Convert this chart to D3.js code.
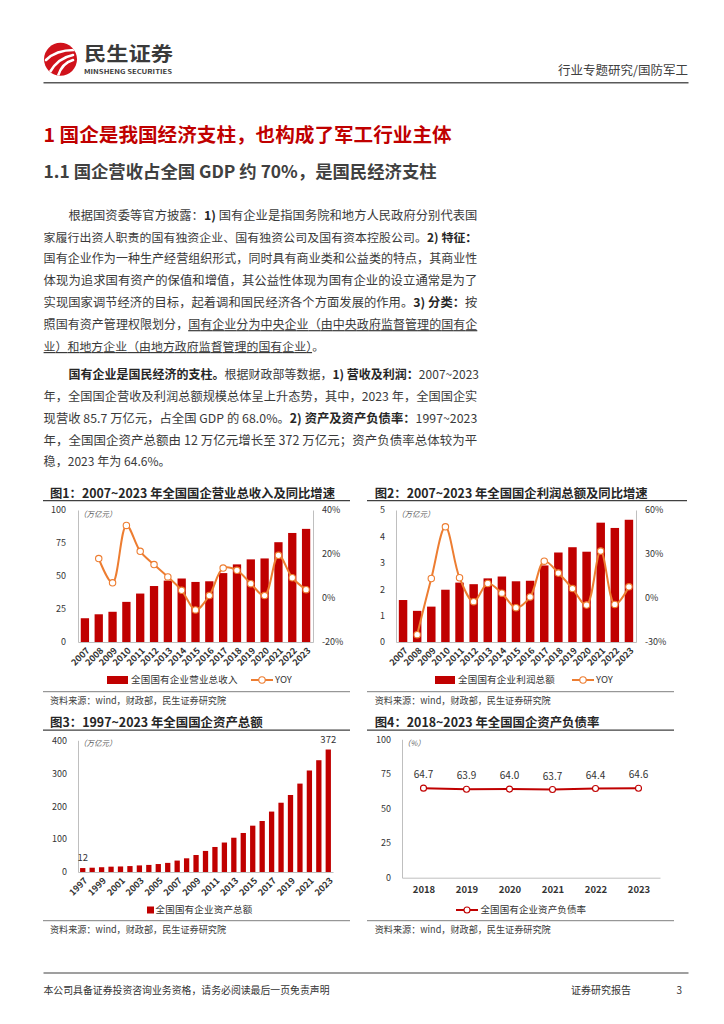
<!DOCTYPE html>
<html>
<head>
<meta charset="utf-8">
<script src="https://cdn.jsdelivr.net/npm/d3@7"></script>
<style>
body { margin: 0; background: #fff; }
svg { display: block; }
text { font-family: "Noto Sans CJK SC", "Noto Sans", sans-serif; white-space: pre; }
</style>
</head>
<body>
<svg id="page" width="724" height="1024"></svg>
<script>
// 数据 ---------------------------------------------------
var years1 = ['2007','2008','2009','2010','2011','2012','2013','2014','2015','2016','2017','2018','2019','2020','2021','2022','2023'];
var revenue = [18.0, 21.0, 22.9, 30.4, 36.7, 42.4, 46.5, 48.1, 45.5, 46.0, 52.2, 58.8, 62.6, 63.3, 75.6, 82.6, 85.7];
var revenueYoy = [null, 17.9, 6.9, 33.0, 21.2, 15.2, 9.6, 3.5, -5.4, 1.1, 13.6, 12.6, 6.5, 1.1, 19.4, 9.2, 3.8];
var profit = [1.59, 1.18, 1.34, 1.98, 2.25, 2.19, 2.41, 2.48, 2.30, 2.32, 2.90, 3.39, 3.59, 3.42, 4.52, 4.32, 4.63];
var profitYoy = [null, -25.0, 13.3, 48.5, 13.8, -2.5, 9.9, 3.3, -6.6, 0.7, 25.1, 17.0, 6.4, -4.8, 32.0, -4.4, 7.6];
var years3 = ['1997','1998','1999','2000','2001','2002','2003','2004','2005','2006','2007','2008','2009','2010','2011','2012','2013','2014','2015','2016','2017','2018','2019','2020','2021','2022','2023'];
var assets = [12, 13, 14.5, 16.2, 16.8, 18, 20, 21.5, 24.2, 27.7, 34.7, 41.6, 51.6, 64, 76, 89.5, 104.1, 118.5, 140.7, 154.9, 183.5, 210.4, 233.9, 268.5, 308.3, 339.5, 372];
var years4 = ['2018','2019','2020','2021','2022','2023'];
var debtRatio = [64.7, 63.9, 64.0, 63.7, 64.4, 64.6];

var ticks1 = [0, 25, 50, 75, 100];
var ticks1r = [-20, 0, 20, 40];
var ticks2 = [0, 1, 2, 3, 4, 5];
var ticks2r = [-30, 0, 30, 60];
var ticks3 = [0, 100, 200, 300, 400];
var ticks4 = [0, 25, 50, 75, 100];

var RED = '#c00000', ORANGE = '#ed7d31', AX = '#bfbfbf', TXT = '#333';
var svg = d3.select('#page');

// 页眉 ---------------------------------------------------
var logo = svg.append('g');
logo.append('clipPath').attr('id', 'lc').append('circle').attr('cx', 60.5).attr('cy', 59.3).attr('r', 16.5);
logo.append('circle').attr('cx', 60.5).attr('cy', 59.3).attr('r', 16.5).attr('fill', '#d0121b');
var lg = logo.append('g').attr('clip-path', 'url(#lc)').attr('fill', 'none').attr('stroke', '#fff').attr('stroke-linecap', 'round');
lg.append('path').attr('d', 'M46,60 Q56,50 74,50').attr('stroke-width', 2.6);
lg.append('path').attr('d', 'M50,72 Q58,58 73,55').attr('stroke-width', 2.6);
lg.append('path').attr('d', 'M58,76 Q62,63 73,60').attr('stroke-width', 2.6);
svg.append('text').attr('x', 84).attr('y', 60.5).attr('font-size', 19).attr('font-weight', 700)
  .attr('fill', '#3a3a3a').attr('textLength', 89).attr('lengthAdjust', 'spacingAndGlyphs').text('民生证券');
svg.append('text').attr('x', 84).attr('y', 73.5).attr('font-size', 6).attr('font-weight', 700)
  .attr('fill', '#3a3a3a').attr('textLength', 88).attr('lengthAdjust', 'spacingAndGlyphs').text('MINSHENG SECURITIES');
svg.append('text').attr('x', 688).attr('y', 74.5).attr('font-size', 12.5).attr('text-anchor', 'end')
  .attr('fill', '#404040').text('行业专题研究/国防军工');
svg.append('line').attr('x1', 43.5).attr('x2', 688.5).attr('y1', 82.7).attr('y2', 82.7)
  .attr('stroke', '#595959').attr('stroke-width', 1.5);

// 标题 ---------------------------------------------------
svg.append('text').attr('x', 43.6).attr('y', 142).attr('font-size', 19).attr('font-weight', 700).attr('fill', RED)
  .attr('textLength', 408).attr('lengthAdjust', 'spacingAndGlyphs').text('1 国企是我国经济支柱，也构成了军工行业主体');
svg.append('text').attr('x', 43.6).attr('y', 177.5).attr('font-size', 17).attr('font-weight', 700).attr('fill', '#404040')
  .attr('textLength', 393).attr('lengthAdjust', 'spacingAndGlyphs').text('1.1 国企营收占全国 GDP 约 70%，是国民经济支柱');

// 正文 ---------------------------------------------------
var para1 = [
  [{t: '根据国资委等官方披露：'}, {t: '1)', b: 1}, {t: ' 国有企业是指国务院和地方人民政府分别代表国'}],
  [{t: '家履行出资人职责的国有独资企业、国有独资公司及国有资本控股公司。'}, {t: '2) 特征：', b: 1}],
  [{t: '国有企业作为一种生产经营组织形式，同时具有商业类和公益类的特点，其商业性'}],
  [{t: '体现为追求国有资产的保值和增值，其公益性体现为国有企业的设立通常是为了'}],
  [{t: '实现国家调节经济的目标，起着调和国民经济各个方面发展的作用。'}, {t: '3) 分类：', b: 1}, {t: '按'}],
  [{t: '照国有资产管理权限划分，'}, {t: '国有企业分为中央企业（由中央政府监督管理的国有企', u: 1}],
  [{t: '业）和地方企业（由地方政府监督管理的国有企业）', u: 1}, {t: '。'}]
];
var para2 = [
  [{t: '国有企业是国民经济的支柱。', b: 1}, {t: '根据财政部等数据，'}, {t: '1) 营收及利润：', b: 1}, {t: '2007~2023'}],
  [{t: '年，全国国企营收及利润总额规模总体呈上升态势，其中，2023 年，全国国企实'}],
  [{t: '现营收 85.7 万亿元，占全国 GDP 的 68.0%。'}, {t: '2) 资产及资产负债率：', b: 1}, {t: '1997~2023'}],
  [{t: '年，全国国企资产总额由 12 万亿元增长至 372 万亿元；资产负债率总体较为平'}],
  [{t: '稳，2023 年为 64.6%。'}]
];

function drawPara(lines, y0, dy, ends) {
  lines.forEach(function (segs, i) {
    var x = i == 0 ? 68.4 : 43.6;
    var w = ends[i] - x;
    var fs = 12.8;
    var t = svg.append('text').attr('x', x).attr('y', y0 + i * dy + 4.6)
      .attr('font-size', fs).attr('fill', '#3a3a3a');
    segs.forEach(function (s) {
      var ts = t.append('tspan').text(s.t).attr('font-weight', s.b ? 700 : 400);
      if (s.b) ts.attr('fill', '#262626');
      if (s.u) ts.style('text-decoration', 'underline');
    });
    // 行宽超出时缩小字号，再用字距撑满
    var nat = t.node().getComputedTextLength();
    if (nat > w) t.attr('font-size', fs * w / nat - 0.05);
    t.attr('textLength', w).attr('lengthAdjust', 'spacing');
  });
}
drawPara(para1, 215, 21.9, [477.3, 477.3, 477.3, 477.3, 477.3, 477.3, 324]);
drawPara(para2, 374.5, 21.8, [479, 477.3, 477.3, 477.3, 170.6]);

// 图表外框 ---------------------------------------------------
function frame(o) {
  svg.append('text').attr('x', o.tx).attr('y', o.ty + 4.5).attr('font-size', 12.5).attr('font-weight', 700)
    .attr('fill', '#262626').attr('textLength', o.tw).attr('lengthAdjust', 'spacingAndGlyphs').text(o.title);
  svg.append('line').attr('x1', o.x1).attr('x2', o.x2).attr('y1', o.ty + 7.4).attr('y2', o.ty + 7.4)
    .attr('stroke', '#404040').attr('stroke-width', 1.3);
  svg.append('line').attr('x1', o.x1).attr('x2', o.x3).attr('y1', o.by).attr('y2', o.by)
    .attr('stroke', '#7f7f7f').attr('stroke-width', 1);
  svg.append('text').attr('x', o.tx).attr('y', o.by + 12.5).attr('font-size', 9.5).attr('fill', '#404040')
    .attr('textLength', 176).attr('lengthAdjust', 'spacingAndGlyphs').text('资料来源：wind，财政部，民生证券研究院');
}
frame({title: '图1：2007~2023 年全国国企营业总收入及同比增速', tx: 50, ty: 493.3, tw: 285, x1: 43, x2: 350, x3: 350, by: 691.7});
frame({title: '图2：2007~2023 年全国国企利润总额及同比增速', tx: 374.7, ty: 493.3, tw: 273, x1: 367, x2: 687, x3: 674, by: 691.7});
frame({title: '图3：1997~2023 年全国国企资产总额', tx: 50, ty: 722.7, tw: 212.7, x1: 43, x2: 350, x3: 350, by: 920.7});
frame({title: '图4：2018~2023 年全国国企资产负债率', tx: 374.7, ty: 722.7, tw: 224.6, x1: 367, x2: 674, x3: 674, by: 920.7});

function styleAxis(g, size, weight) {
  g.select('.domain').attr('stroke', AX).attr('stroke-width', 1);
  g.selectAll('text').attr('font-size', size).attr('fill', TXT).attr('font-weight', weight || 400)
    .attr('font-family', '"Liberation Sans", Arial, sans-serif');
}

function unitLabel(x, y, s) {
  svg.append('text').attr('x', x).attr('y', y + 2.6).attr('font-size', 7.5).attr('font-style', 'italic')
    .attr('fill', '#595959').text(s);
}

// 柱线组合图 ---------------------------------------------------
function combo(o) {
  var g = svg.append('g');
  var x = d3.scaleBand().domain(o.cats).range([o.left, o.right]).paddingInner(0.4).paddingOuter(0.2);
  var y = d3.scaleLinear().domain([0, o.yTicks[o.yTicks.length - 1]]).range([o.bottom, o.top]);
  var yr = d3.scaleLinear().domain([o.rTicks[0], o.rTicks[o.rTicks.length - 1]]).range([o.bottom, o.top]);

  g.selectAll('rect.bar').data(o.bars).join('rect').attr('class', 'bar')
    .attr('x', function (d, i) { return x(o.cats[i]); })
    .attr('width', x.bandwidth())
    .attr('y', function (d) { return y(d); })
    .attr('height', function (d) { return y(0) - y(d); })
    .attr('fill', RED);

  var gl = g.append('g').attr('transform', 'translate(' + o.left + ',0)')
    .call(d3.axisLeft(y).tickValues(o.yTicks).tickSize(0).tickSizeOuter(0).tickPadding(o.lpad)
      .tickFormat(function (d) { return String(d); }));
  styleAxis(gl, 9);
  var gr = g.append('g').attr('transform', 'translate(' + o.right + ',0)')
    .call(d3.axisRight(yr).tickValues(o.rTicks).tickSize(0).tickSizeOuter(0).tickPadding(9)
      .tickFormat(function (d) { return d + '%'; }));
  styleAxis(gr, 9);
  var gb = g.append('g').attr('transform', 'translate(0,' + o.bottom + ')')
    .call(d3.axisBottom(x).tickSize(0).tickSizeOuter(0));
  styleAxis(gb, 9, 700);
  gb.selectAll('text').attr('x', 0).attr('y', 0).attr('dy', '0.35em').attr('text-anchor', 'end')
    .attr('transform', 'translate(3,7) rotate(-45)');

  var cx = function (i) { return x(o.cats[i]) + x.bandwidth() / 2; };
  var line = d3.line().defined(function (d) { return d != null; })
    .x(function (d, i) { return cx(i); }).y(function (d) { return yr(d); })
    .curve(d3.curveCatmullRom.alpha(0.5));
  g.append('path').datum(o.yoy).attr('d', line).attr('fill', 'none').attr('stroke', ORANGE).attr('stroke-width', 2);
  g.selectAll('circle.pt').data(o.yoy.map(function (d, i) { return {v: d, i: i}; }).filter(function (d) { return d.v != null; }))
    .join('circle').attr('class', 'pt').attr('cx', function (d) { return cx(d.i); }).attr('cy', function (d) { return yr(d.v); })
    .attr('r', 3.2).attr('fill', '#fff').attr('stroke', ORANGE).attr('stroke-width', 1.1);

  unitLabel(o.left + 1, o.top + 4, '（万亿元）');

  // 图例
  var ly = 680;
  g.append('rect').attr('x', o.leg[0]).attr('y', ly - 4).attr('width', o.leg[1] - o.leg[0]).attr('height', 8).attr('fill', RED);
  g.append('text').attr('x', o.leg[1] + 3).attr('y', ly + 3.4).attr('font-size', 9.5).attr('fill', TXT)
    .attr('letter-spacing', 0.2).text(o.barName);
  g.append('line').attr('x1', o.leg[2]).attr('x2', o.leg[2] + 22).attr('y1', ly).attr('y2', ly)
    .attr('stroke', ORANGE).attr('stroke-width', 2);
  g.append('circle').attr('cx', o.leg[2] + 11).attr('cy', ly).attr('r', 3.2).attr('fill', '#fff')
    .attr('stroke', ORANGE).attr('stroke-width', 1.1);
  g.append('text').attr('x', o.leg[2] + 24).attr('y', ly + 3.4).attr('font-size', 9.5).attr('fill', TXT)
    .attr('font-family', '"Liberation Sans", Arial, sans-serif').text('YOY');
}

combo({cats: years1, bars: revenue, yoy: revenueYoy, yTicks: ticks1, rTicks: ticks1r,
  left: 78, right: 313, top: 510, bottom: 642, lpad: 12,
  barName: '全国国有企业营业总收入', leg: [107, 128, 251]});
combo({cats: years1, bars: profit, yoy: profitYoy, yTicks: ticks2, rTicks: ticks2r,
  left: 396, right: 636, top: 510, bottom: 642, lpad: 11,
  barName: '全国国有企业利润总额', leg: [435, 455, 572]});

// 图3 资产总额 ---------------------------------------------------
(function () {
  var g = svg.append('g');
  var left = 78, right = 333, top = 740.3, bottom = 872;
  var x = d3.scaleBand().domain(years3).range([left, right]).paddingInner(0.44).paddingOuter(0.22);
  var y = d3.scaleLinear().domain([0, 400]).range([bottom, top]);
  g.selectAll('rect').data(assets).join('rect')
    .attr('x', function (d, i) { return x(years3[i]); }).attr('width', x.bandwidth())
    .attr('y', function (d) { return y(d); }).attr('height', function (d) { return y(0) - y(d); })
    .attr('fill', RED);
  var gl = g.append('g').attr('transform', 'translate(' + left + ',0)')
    .call(d3.axisLeft(y).tickValues(ticks3).tickSize(0).tickSizeOuter(0).tickPadding(11));
  styleAxis(gl, 9);
  var gb = g.append('g').attr('transform', 'translate(0,' + bottom + ')')
    .call(d3.axisBottom(x).tickValues(years3.filter(function (d, i) { return i % 2 == 0; })).tickSize(0).tickSizeOuter(0));
  styleAxis(gb, 9, 700);
  gb.selectAll('text').attr('x', 0).attr('y', 0).attr('dy', '0.35em').attr('text-anchor', 'end')
    .attr('transform', 'translate(3,7) rotate(-45)');
  // 首尾数据标签
  [0, assets.length - 1].forEach(function (i) {
    g.append('text').attr('x', x(years3[i]) + x.bandwidth() / 2).attr('y', y(assets[i]) - 7)
      .attr('text-anchor', 'middle').attr('font-size', 9.5).attr('fill', TXT)
      .attr('font-family', '"Liberation Sans", Arial, sans-serif').text(assets[i]);
  });
  unitLabel(left + 1, top + 3, '（万亿元）');
  g.append('rect').attr('x', 147).attr('y', 906.5).attr('width', 7).attr('height', 7).attr('fill', RED);
  g.append('text').attr('x', 155.5).attr('y', 913.4).attr('font-size', 9.5).attr('fill', TXT)
    .attr('letter-spacing', 0.2).text('全国国有企业资产总额');
})();

// 图4 资产负债率 ---------------------------------------------------
(function () {
  var g = svg.append('g');
  var left = 402, right = 660, top = 739.3, bottom = 877.7;
  var x = d3.scalePoint().domain(years4).range([left, right]).padding(0.5);
  var y = d3.scaleLinear().domain([0, 100]).range([bottom, top]);
  var gl = g.append('g').attr('transform', 'translate(' + left + ',0)')
    .call(d3.axisLeft(y).tickValues(ticks4).tickSize(0).tickSizeOuter(0).tickPadding(11));
  styleAxis(gl, 9);
  var gb = g.append('g').attr('transform', 'translate(0,' + bottom + ')')
    .call(d3.axisBottom(x).tickSize(0).tickSizeOuter(0).tickPadding(9));
  styleAxis(gb, 9.5, 700);
  g.append('path').datum(debtRatio)
    .attr('d', d3.line().x(function (d, i) { return x(years4[i]); }).y(function (d) { return y(d); }))
    .attr('fill', 'none').attr('stroke', RED).attr('stroke-width', 2);
  g.selectAll('circle').data(debtRatio).join('circle')
    .attr('cx', function (d, i) { return x(years4[i]); }).attr('cy', function (d) { return y(d); })
    .attr('r', 3).attr('fill', '#fff').attr('stroke', RED).attr('stroke-width', 1.1);
  g.selectAll('text.lab').data(debtRatio).join('text').attr('class', 'lab')
    .attr('x', function (d, i) { return x(years4[i]); }).attr('y', function (d) { return y(d) - 10; })
    .attr('text-anchor', 'middle').attr('font-size', 10).attr('fill', TXT)
    .attr('font-family', '"Liberation Sans", Arial, sans-serif')
    .text(function (d) { return d.toFixed(1); });
  unitLabel(left + 1, top + 4, '（%）');
  g.append('line').attr('x1', 456).attr('x2', 478).attr('y1', 910).attr('y2', 910).attr('stroke', RED).attr('stroke-width', 2);
  g.append('circle').attr('cx', 467).attr('cy', 910).attr('r', 3).attr('fill', '#fff').attr('stroke', RED).attr('stroke-width', 1.1);
  g.append('text').attr('x', 480.5).attr('y', 913.4).attr('font-size', 9.5).attr('fill', TXT)
    .attr('letter-spacing', 0.1).text('全国国有企业资产负债率');
})();

// 页脚 ---------------------------------------------------
svg.append('line').attr('x1', 43.5).attr('x2', 688.5).attr('y1', 973).attr('y2', 973)
  .attr('stroke', '#7f7f7f').attr('stroke-width', 1.3);
svg.append('text').attr('x', 43.5).attr('y', 993.5).attr('font-size', 10).attr('fill', TXT)
  .attr('textLength', 286).attr('lengthAdjust', 'spacingAndGlyphs').text('本公司具备证券投资咨询业务资格，请务必阅读最后一页免责声明');
svg.append('text').attr('x', 571).attr('y', 993.5).attr('font-size', 10).attr('fill', TXT).text('证券研究报告');
svg.append('text').attr('x', 682).attr('y', 993.5).attr('font-size', 10).attr('fill', TXT).attr('text-anchor', 'end')
  .attr('font-family', '"Liberation Sans", Arial, sans-serif').text('3');
</script>
</body>
</html>
